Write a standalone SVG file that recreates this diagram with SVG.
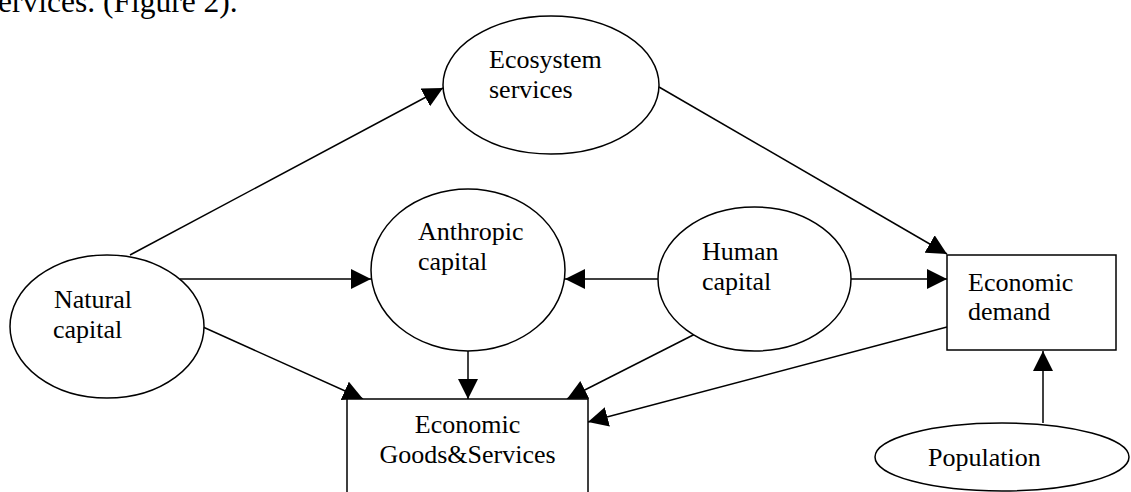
<svg xmlns="http://www.w3.org/2000/svg" width="1131" height="492" viewBox="0 0 1131 492">
  <style>
    .shape { fill: #ffffff; stroke: #000000; stroke-width: 1.5; }
    .edge { fill: none; stroke: #000000; stroke-width: 1.5; marker-end: url(#head); }
    .label { font-family: "Liberation Serif", "Times New Roman", serif; font-size: 26px; fill: #000000; }
    .body { font-family: "Liberation Serif", "Times New Roman", serif; font-size: 31.5px; fill: #000000; }
  </style>
  <defs>
    <marker id="head" markerUnits="userSpaceOnUse" markerWidth="20" markerHeight="20" refX="20" refY="10" orient="auto">
      <path d="M0,0 L20,10 L0,20 Z" fill="#000000"/>
    </marker>
  </defs>
  <rect width="1131" height="492" fill="#ffffff"/>

  <!-- running text line above the figure -->
  <text class="body" x="-2" y="12">ervices. (Figure 2).</text>

  <!-- connectors -->
  <g id="connectors">
    <line class="edge" x1="130" y1="255" x2="443" y2="88"/>
    <line class="edge" x1="180" y1="279" x2="371" y2="279"/>
    <line class="edge" x1="203" y1="327" x2="363" y2="399"/>
    <line class="edge" x1="468" y1="351" x2="468" y2="399"/>
    <line class="edge" x1="658" y1="279" x2="565" y2="279"/>
    <line class="edge" x1="705" y1="329" x2="567" y2="399"/>
    <line class="edge" x1="851" y1="279" x2="947" y2="279"/>
    <line class="edge" x1="659" y1="87" x2="947" y2="254"/>
    <line class="edge" x1="947" y1="327" x2="588" y2="422"/>
    <line class="edge" x1="1043" y1="423" x2="1043" y2="351"/>
  </g>

  <g id="ecosystem-services">
    <ellipse class="shape" cx="551" cy="85" rx="108" ry="69"/>
    <text class="label" x="489" y="68">Ecosystem</text>
    <text class="label" x="489" y="98">services</text>
  </g>

  <g id="natural-capital">
    <ellipse class="shape" cx="107" cy="326.5" rx="97" ry="71.5"/>
    <text class="label" x="54" y="308">Natural</text>
    <text class="label" x="53" y="338">capital</text>
  </g>

  <g id="anthropic-capital">
    <ellipse class="shape" cx="468" cy="270" rx="97" ry="81"/>
    <text class="label" x="418" y="240">Anthropic</text>
    <text class="label" x="418" y="270">capital</text>
  </g>

  <g id="human-capital">
    <ellipse class="shape" cx="754.5" cy="279" rx="96.5" ry="72"/>
    <text class="label" x="702" y="260">Human</text>
    <text class="label" x="702" y="290">capital</text>
  </g>

  <g id="economic-demand">
    <rect class="shape" x="947" y="255" width="169" height="95"/>
    <text class="label" x="968" y="291">Economic</text>
    <text class="label" x="968" y="320">demand</text>
  </g>

  <g id="economic-goods-services">
    <rect class="shape" x="347" y="399" width="241" height="110"/>
    <text class="label" x="467.5" y="433" text-anchor="middle">Economic</text>
    <text class="label" x="467.5" y="463" text-anchor="middle">Goods&amp;Services</text>
  </g>

  <g id="population">
    <ellipse class="shape" cx="1002" cy="457" rx="127" ry="34"/>
    <text class="label" x="928" y="466">Population</text>
  </g>
</svg>
